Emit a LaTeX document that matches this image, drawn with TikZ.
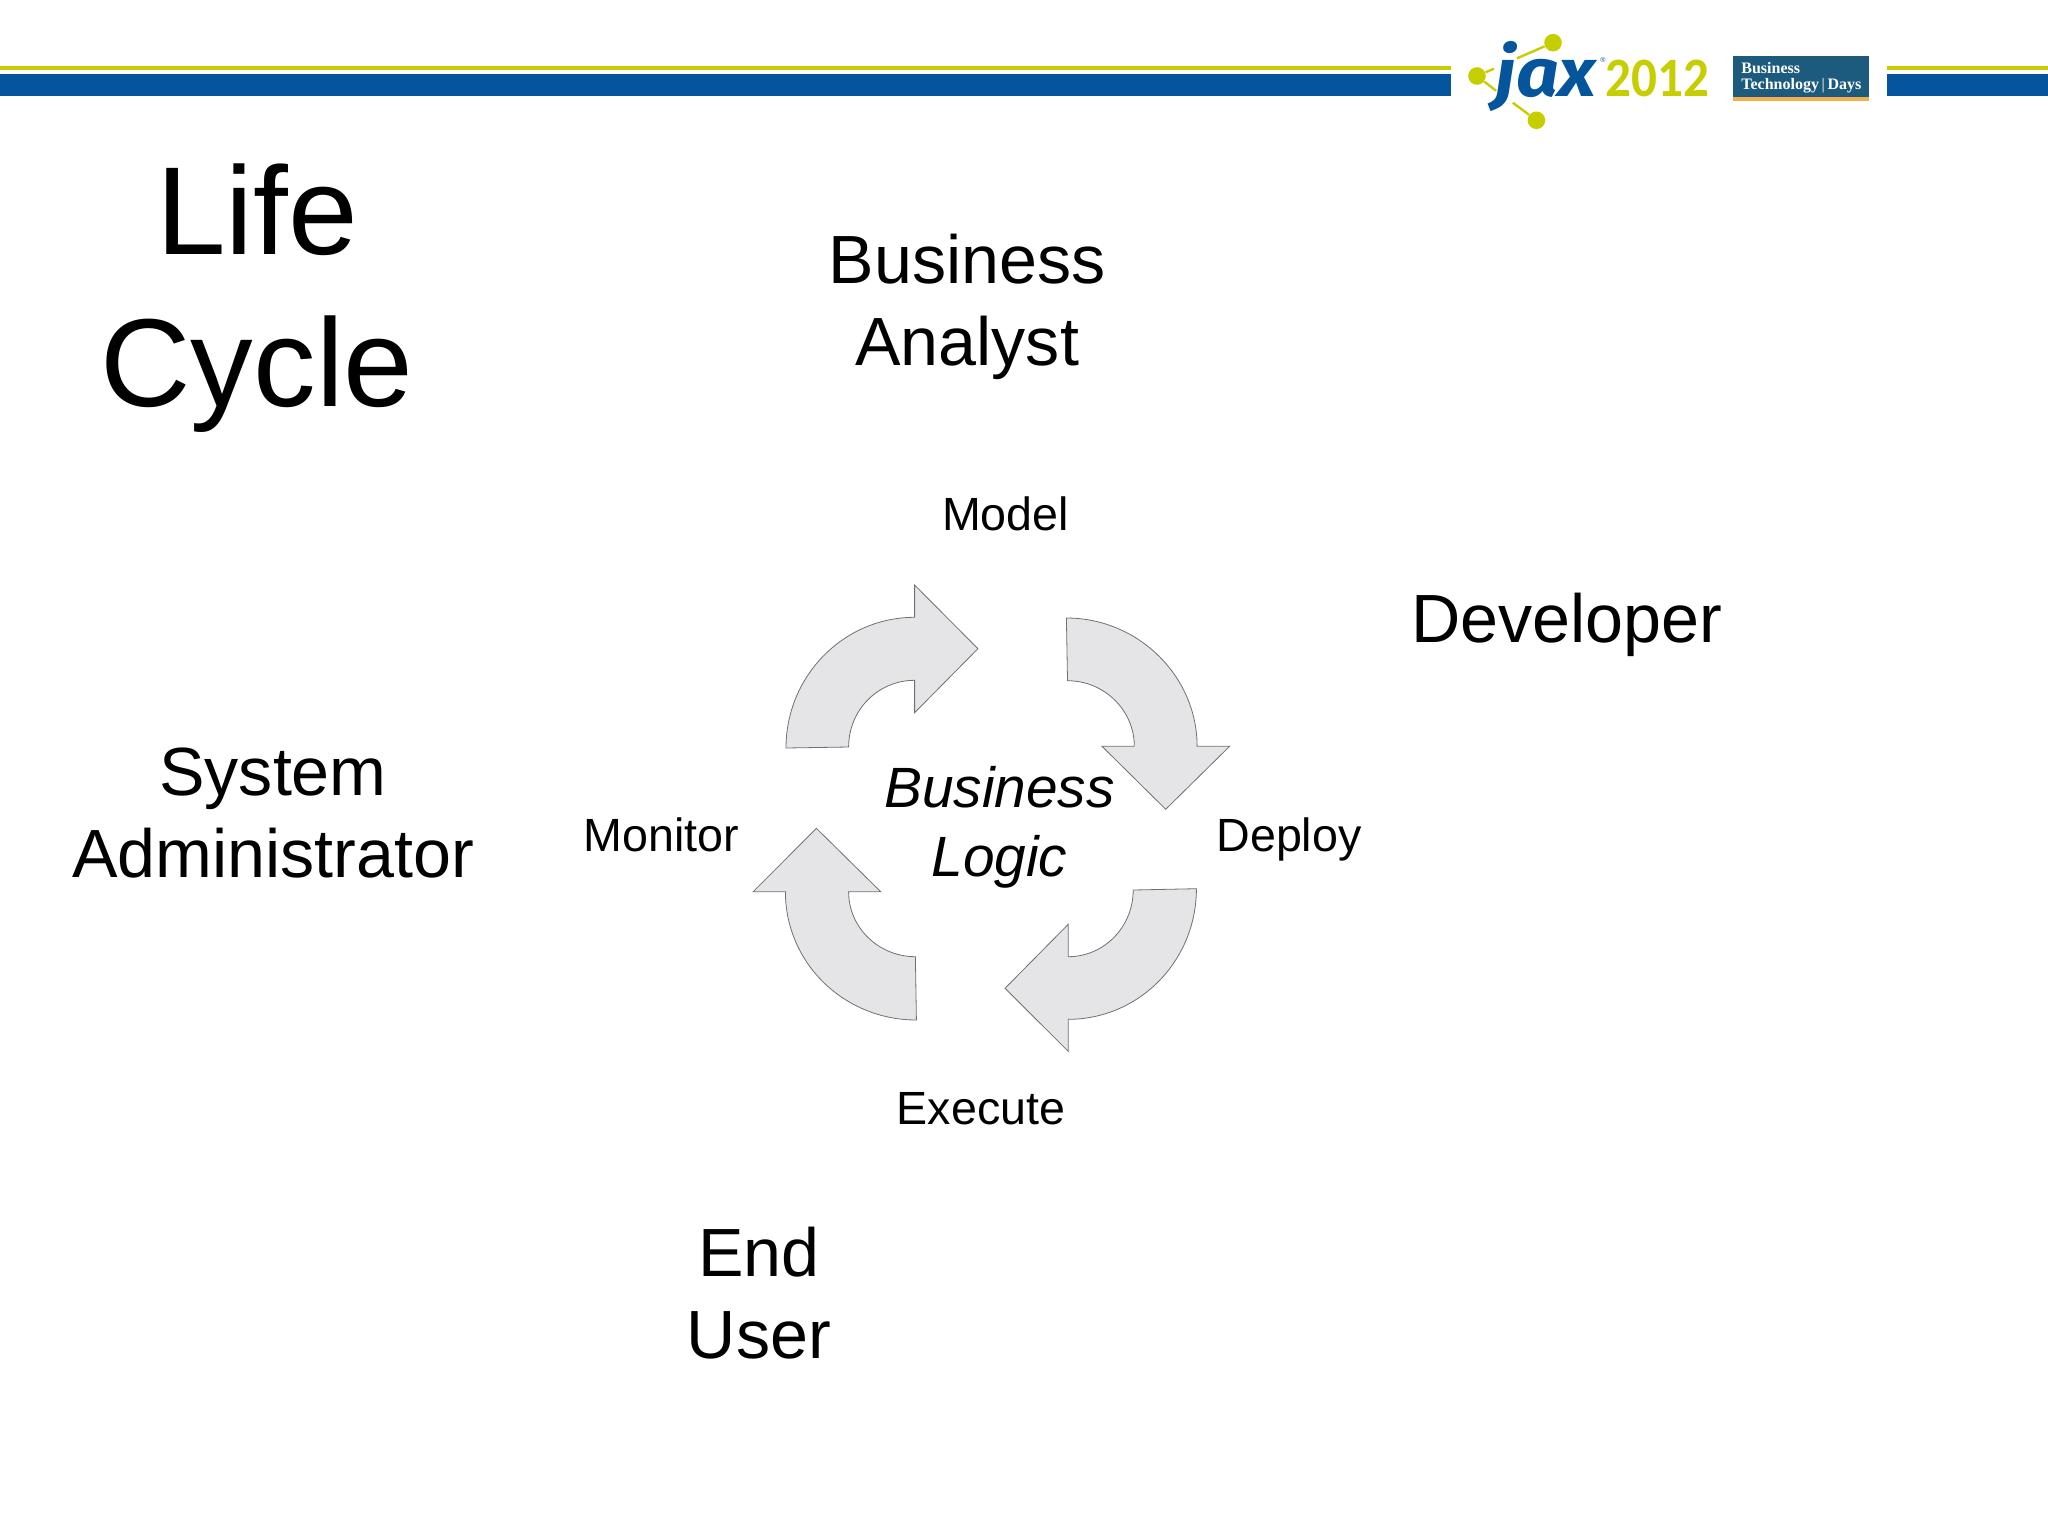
\documentclass[tikz,border=0pt]{standalone}
\usepackage{fontspec}
\setmainfont{Liberation Sans}
\newfontfamily\logofont{Fira Sans}
\newfontfamily\yearfont{Carlito}
\newfontfamily\badgefont{Liberation Serif}
\definecolor{barblue}{HTML}{04559B}
\definecolor{baryellow}{HTML}{C6CE00}
\definecolor{badgeblue}{HTML}{1C5B7E}
\definecolor{badgeorange}{HTML}{F2B04B}
\definecolor{arrowgray}{HTML}{E5E5E8}
\definecolor{arrowline}{HTML}{707070}
\tikzset{
  bigtext/.style={anchor=base,inner sep=0pt,align=center,font=\fontsize{34.1}{40.8}\selectfont},
  titletext/.style={anchor=base,inner sep=0pt,align=center,font=\fontsize{62.6}{76}\selectfont},
  phasetext/.style={anchor=base,inner sep=0pt,font=\fontsize{23.3}{28}\selectfont},
  centertext/.style={anchor=base,inner sep=0pt,align=center,font=\fontsize{28.4}{34.4}\selectfont\itshape},
  cyclearrow/.style={draw=arrowline,fill=arrowgray,line width=0.4pt},
  logodot/.style={circle,fill=baryellow,inner sep=0pt,minimum size=8.8pt},
  logoline/.style={draw=baryellow,line width=1.2pt},
  badgetext/.style={anchor=base west,inner sep=0pt,text=white,font=\fontsize{8}{8}\badgefont\bfseries},
}
\begin{document}
\begin{tikzpicture}[x=0.5pt,y=-0.5pt]
\useasboundingbox (0,0) rectangle (2048,1536);
% header bars
\fill[baryellow] (0,66.5) rectangle (1451,70);
\fill[barblue] (0,74) rectangle (1451,96.5);
\fill[baryellow] (1887,66.5) rectangle (2048,70);
\fill[barblue] (1887,74) rectangle (2048,96.5);
% logo
\node[logodot] (dottop) at (1553,42.7) {};
\node[logodot] (dotleft) at (1477,76) {};
\node[logodot] (dotbottom) at (1536.4,120.3) {};
\coordinate (linetop) at (1517,58.3);
\coordinate (lineleftup) at (1494,68.7);
\coordinate (lineleftdown) at (1496,90.7);
\coordinate (linebottom) at (1512.8,102.7);
\draw[logoline] (dottop) -- (linetop);
\draw[logoline] (dotleft) -- (lineleftup);
\draw[logoline] (dotleft) -- (lineleftdown);
\draw[logoline] (dotbottom) -- (linebottom);
\node[anchor=base west,inner sep=0pt,text=barblue,font=\fontsize{34}{34}\logofont\bfseries\itshape] (jaxword) at (1495,96.7) {\scalebox{1.10}[1]{jax}};
\node[anchor=center,inner sep=0pt,text=barblue,font=\fontsize{3.5}{4}\selectfont] (jaxmark) at (1603,60) {\textregistered};
\node[anchor=base west,inner sep=0pt,text=baryellow,font=\fontsize{27.8}{28}\yearfont\bfseries] (jaxyear) at (1605,96.7) {\scalebox{0.92}[1]{2012}};
% badge
\fill[badgeblue] (1733,56) rectangle (1869.4,97);
\fill[badgeorange] (1733,97) rectangle (1869.4,100.7);
\node[badgetext] (badgeone) at (1741,74) {Business};
\node[badgetext] (badgetwo) at (1741,89.3) {Technology{\mdseries\,|\,}Days};
% people and title
\node[titletext] (title) at (257,406) {Life\\Cycle};
\node[bigtext] (analyst) at (967.2,365) {Business\\Analyst};
\node[bigtext] (developer) at (1566.6,642) {Developer};
\node[bigtext] (admin) at (273,877) {System\\Administrator};
\node[bigtext] (enduser) at (758.8,1358) {End\\User};
% phases
\node[phasetext] (model) at (1005.5,530) {Model};
\node[phasetext] (deploy) at (1289,851) {Deploy};
\node[phasetext] (execute) at (981,1124) {Execute};
\node[phasetext] (monitor) at (661.5,851) {Monitor};
\node[centertext] (logic) at (999.5,876) {Business\\Logic};
% arrows
\draw[cyclearrow] (786,748) .. controls (786,676) and (843.6,617.3) .. (914.6,617.3) -- (914.6,585) -- (977.9,648.7) -- (914.6,712.7) -- (914.6,680.3) .. controls (878,680.3) and (848.6,710) .. (848.6,747) -- cycle;
\draw[cyclearrow] (1066.4,618) .. controls (1138,618) and (1197.1,676) .. (1197.1,746.3) -- (1229.6,746.3) -- (1165.7,809.3) -- (1102,746.3) -- (1134.3,746.3) .. controls (1134.3,710) and (1104,680.7) .. (1067.5,680.7) -- cycle;
\draw[cyclearrow] (1196.4,888.7) .. controls (1196.4,961) and (1139,1019.3) .. (1068.2,1019.3) -- (1068.2,1051.3) -- (1005,988.3) -- (1068.2,924.3) -- (1068.2,956.7) .. controls (1104,956.7) and (1133.2,927) .. (1133.2,890) -- cycle;
\draw[cyclearrow] (916.4,1020) .. controls (844,1020) and (785.4,963) .. (785.4,891.7) -- (753.2,891.7) -- (816.4,828.3) -- (880.7,891.7) -- (848.6,891.7) .. controls (848.6,928) and (879,956.7) .. (915.4,956.7) -- cycle;
\end{tikzpicture}
\end{document}
